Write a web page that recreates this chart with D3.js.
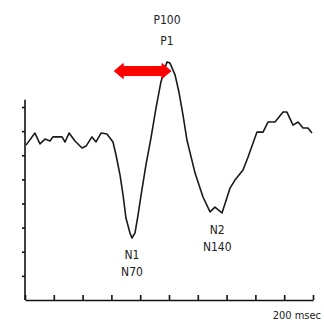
<!DOCTYPE html>
<html>
<head>
<meta charset="utf-8">
<script src="https://cdn.jsdelivr.net/npm/d3@7"></script>
<style>
  html, body { margin: 0; padding: 0; background: #fff; }
  svg { display: block; }
  .lbl { font-family: "Liberation Sans Narrow", "DejaVu Sans Condensed", "Arial Narrow", sans-serif; fill: #222; }
</style>
</head>
<body>
<svg id="chart" width="324" height="324"></svg>
<script>
// Visual evoked potential trace: time (msec) and amplitude (tick units)
const timeMs = [0.7, 6.9, 10.4, 13.9, 17.4, 19.4, 25.7, 27.8, 30.6, 34.7, 39.6, 42.4, 46.5, 49.3, 52.8, 56.9,
  61.1, 63.2, 66.0, 68.1, 70.1, 72.9, 74.3, 76.4, 78.5, 80.6, 84.0, 87.5, 91.0, 94.4, 97.2, 98.6, 100.7,
  104.2, 106.9, 109.7, 112.5, 118.1, 123.6, 128.5, 131.9, 136.8, 142.4, 145.8, 151.4, 154.9, 161.1,
  165.3, 168.8, 173.6, 179.2, 181.9, 186.1, 189.6, 193.1, 196.5, 199.3];
const amplitude = [6.42, 6.92, 6.47, 6.67, 6.59, 6.76, 6.76, 6.55, 6.92, 6.59, 6.30, 6.38, 6.76, 6.55, 6.92, 6.88,
  6.55, 6.01, 5.18, 4.35, 3.40, 2.78, 2.57, 2.78, 3.52, 4.35, 5.60, 6.72, 7.96, 9.04, 9.62, 9.87, 9.82,
  9.33, 8.62, 7.67, 6.62, 5.26, 4.27, 3.65, 3.85, 3.61, 4.64, 4.97, 5.39, 5.93, 6.96,
  6.96, 7.38, 7.38, 7.79, 7.79, 7.25, 7.38, 7.13, 7.13, 6.92];

// Axis ticks
const xTickValues = [0, 20, 40, 60, 80, 100, 120, 140, 160, 180, 200];
const yTickValues = [1, 2, 3, 4, 5, 6, 7, 8];
const xAxisLabel = "200 msec";

// Component peaks: name, alternate name, latency, amplitude
const peakNames = ["P100", "N1", "N2"];
const peakAltNames = ["P1", "N70", "N140"];
const peakTimes = [98.6, 74.3, 133.5];
const peakAmps = [9.87, 2.57, 3.61];

// Latency arrow (msec) drawn at a fixed amplitude
const arrowFrom = 62;
const arrowTo = 101.4;
const arrowLevel = 9.49;

const svg = d3.select("#chart");

const x = d3.scaleLinear().domain([0, 200]).range([25, 313]);
const y = d3.scaleLinear().domain([0, 8]).range([300, 107]);

// Y axis
const yAxis = d3.axisLeft(y).tickValues(yTickValues).tickSize(3).tickSizeOuter(0).tickFormat("");
const gy = svg.append("g").attr("transform", `translate(${x(0)},0)`).call(yAxis);
gy.select(".domain").attr("d", `M0,${y(0)}V${y(8.3)}`);

// X axis with ticks pointing up
const xAxis = d3.axisBottom(x).tickValues(xTickValues).tickSize(-5).tickSizeOuter(0).tickFormat("");
svg.append("g").attr("transform", `translate(0,${y(0)})`).call(xAxis);

svg.selectAll(".domain, .tick line").attr("stroke", "#111").attr("stroke-width", 1.6);

// Waveform
const pts = timeMs.map((t, i) => [t, amplitude[i]]);
const line = d3.line().x(d => x(d[0])).y(d => y(d[1])).curve(d3.curveLinear);
svg.append("path")
  .datum(pts)
  .attr("d", line)
  .attr("fill", "none")
  .attr("stroke", "#1a1a1a")
  .attr("stroke-width", 1.6)
  .attr("stroke-linejoin", "round");

// Double-headed latency arrow
const ax0 = x(arrowFrom), ax1 = x(arrowTo), ay = y(arrowLevel);
const shaft = 4.5, head = 7.5, headLen = 9;
svg.append("path")
  .attr("d", `M${ax0},${ay} L${ax0 + headLen},${ay - head} L${ax0 + headLen},${ay - shaft}
              L${ax1 - headLen},${ay - shaft} L${ax1 - headLen},${ay - head} L${ax1},${ay}
              L${ax1 - headLen},${ay + head} L${ax1 - headLen},${ay + shaft}
              L${ax0 + headLen},${ay + shaft} L${ax0 + headLen},${ay + head} Z`)
  .attr("fill", "#ff0000")
  .attr("stroke", "#ff0000")
  .attr("stroke-width", 1)
  .attr("stroke-linejoin", "round");

// Peak labels
const labelFont = 12;
peakNames.forEach((name, i) => {
  const px = x(peakTimes[i]);
  const py = y(peakAmps[i]);
  let y1, y2;
  if (name === "P100") { y1 = py - 38; y2 = py - 17; }
  else { y1 = py + 21; y2 = py + 38; }
  svg.append("text").attr("class", "lbl").attr("x", px).attr("y", y1)
    .attr("text-anchor", "middle").attr("font-size", labelFont).text(name);
  svg.append("text").attr("class", "lbl").attr("x", px).attr("y", y2)
    .attr("text-anchor", "middle").attr("font-size", labelFont).text(peakAltNames[i]);
});

// Time axis caption
svg.append("text").attr("class", "lbl")
  .attr("x", x(200) + 8).attr("y", y(0) + 19)
  .attr("text-anchor", "end").attr("font-size", 11)
  .text(xAxisLabel);
</script>
</body>
</html>
